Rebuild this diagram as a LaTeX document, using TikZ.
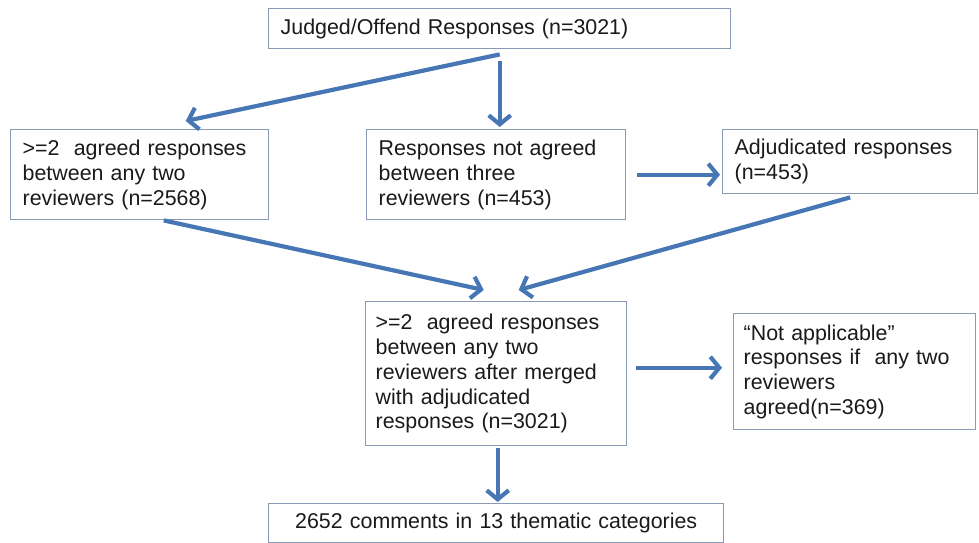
\documentclass[tikz,border=0pt]{standalone}
\usepackage{fontspec}
\setmainfont{Liberation Sans}
\usetikzlibrary{arrows.meta}
\definecolor{arrowblue}{HTML}{4677B4}
\definecolor{boxline}{HTML}{8A9AB4}
\definecolor{txt}{HTML}{1A1A1A}
\tikzset{
  box/.style={draw=boxline, line width=1.4pt, fill=white, anchor=north west,
    align=left, inner xsep=12pt, inner ysep=0pt, text=txt,
    font=\fontsize{21.4}{24.8}\selectfont},
  flow/.style={draw=arrowblue, line width=4.2pt,
    -{Straight Barb[length=9pt,width=22pt]}}
}
\begin{document}
\begin{tikzpicture}[x=1pt,y=-1pt]
\useasboundingbox (0,0) rectangle (979,542);
% boxes
\node[box, minimum width=462pt, minimum height=40pt, text width=438pt] (T) at (268,8)
  {Judged/Offend Responses (n=3021)};
\node[box, minimum width=258pt, minimum height=90pt, text width=234pt, inner xsep=9pt] (A) at (10,129)
  {>=2\ \ agreed responses\\between any two\\reviewers (n=2568)};
\node[box, minimum width=259pt, minimum height=90pt, text width=235pt] (B) at (366,129)
  {Responses not agreed\\between three\\reviewers (n=453)};
\node[box, minimum width=255pt, minimum height=64pt, text width=231pt] (C) at (722,129)
  {Adjudicated responses\\(n=453)};
\node[box, minimum width=261pt, minimum height=144pt, text width=241pt, inner xsep=10pt] (D) at (365,301)
  {>=2\ \ agreed responses\\between any two\\reviewers after merged\\with adjudicated\\responses (n=3021)};
\node[box, minimum width=242pt, minimum height=116pt, text width=222pt, inner xsep=10pt] (E) at (733,313)
  {“Not applicable”\\responses if\ \ any two\\reviewers\\agreed(n=369)};
\node[box, align=center, minimum width=455pt, minimum height=39pt, text width=431pt] (F) at (268,503)
  {2652 comments in 13 thematic categories};
% connectors
\draw[flow] ([yshift=-5pt]T.south) -- ([xshift=46pt,yshift=8pt]A.north);
\draw[flow] ([yshift=-12pt]T.south) -- ([yshift=2pt]T.south |- B.north);
\draw[flow] ([xshift=11pt]B.east) -- ([xshift=-2pt]B.east -| C.west);
\draw[flow] ([xshift=24pt]A.south) -- ([xshift=-12.5pt,yshift=11pt]D.north);
\draw[flow] ([yshift=-3pt]C.south) -- ([xshift=22.5pt,yshift=11pt]D.north);
\draw[flow] ([xshift=9pt,yshift=6pt]D.east) -- ([xshift=-11pt,yshift=4pt]E.west);
\draw[flow] ([xshift=1.5pt,yshift=-2pt]D.south) -- ([xshift=1.5pt,yshift=1pt]D.south |- F.north);
\end{tikzpicture}
\end{document}
